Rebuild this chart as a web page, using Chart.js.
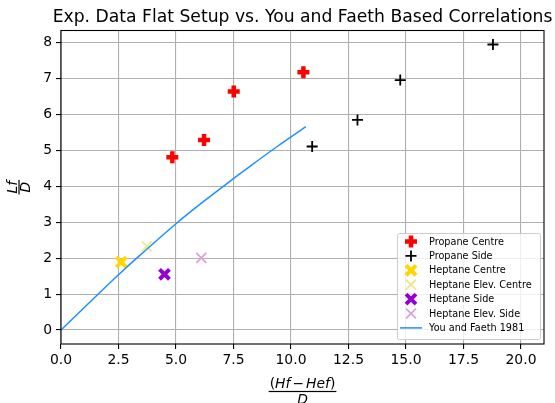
<!DOCTYPE html>
<html>
<head>
<meta charset="utf-8">
<script src="https://cdn.jsdelivr.net/npm/chart.js@4/dist/chart.umd.min.js"></script>
<style>
  html, body { margin: 0; padding: 0; background: #fff; }
  canvas { display: block; }
</style>
</head>
<body>
<canvas id="chart" width="555" height="403"></canvas>
<script>
// values
const titleText = 'Exp. Data Flat Setup vs. You and Faeth Based Correlations';

const propaneCentreX = [4.84, 6.22, 7.51, 10.54];
const propaneCentreY = [4.81, 5.29, 6.64, 7.18];

const propaneSideX = [10.92, 12.89, 14.75, 18.78];
const propaneSideY = [5.11, 5.85, 6.96, 7.95];

const heptaneCentreX = [2.62];
const heptaneCentreY = [1.89];

const heptaneElevCentreX = [3.73];
const heptaneElevCentreY = [2.33];

const heptaneSideX = [4.5];
const heptaneSideY = [1.55];

const heptaneElevSideX = [6.1];
const heptaneElevSideY = [2.01];

const youFaethX = [0, 1.6, 2.5, 3.5, 5.0, 6.2, 7.2, 8.2, 9.4, 10.65];
const youFaethY = [0, 0.99, 1.54, 2.12, 2.96, 3.58, 4.07, 4.55, 5.11, 5.66];

const xTicks = [0, 2.5, 5, 7.5, 10, 12.5, 15, 17.5, 20];
const yTicks = [0, 1, 2, 3, 4, 5, 6, 7, 8];

const toPoints = (xs, ys) => xs.map((x, i) => ({ x: x, y: ys[i] }));

const FONT = "'DejaVu Sans', sans-serif";

function markerSet(label, xs, ys, style, color, width, radius) {
  return {
    label: label,
    data: toPoints(xs, ys),
    pointStyle: style,
    borderColor: color,
    backgroundColor: color,
    pointBorderWidth: width,
    borderWidth: width,
    pointRadius: radius,
    pointHoverRadius: radius,
    showLine: false,
  };
}

// draw a math-style fraction centred at (0,0) in current transform
function drawFraction(ctx, numParts, den, size, numBase, denBase) {
  let total = 0;
  const widths = numParts.map(p => {
    ctx.font = (p.italic ? 'oblique ' : '') + size + 'px ' + FONT;
    const w = ctx.measureText(p.t).width + (p.gap || 0) * 2;
    total += w;
    return w;
  });
  let x = -total / 2;
  ctx.textBaseline = 'alphabetic';
  ctx.textAlign = 'left';
  numParts.forEach((p, i) => {
    ctx.font = (p.italic ? 'oblique ' : '') + size + 'px ' + FONT;
    ctx.fillText(p.t, x + (p.gap || 0), numBase);
    x += widths[i];
  });
  ctx.fillRect(-total / 2 - 1, -0.6, total + 2, 1.2);
  ctx.font = 'oblique ' + size + 'px ' + FONT;
  ctx.textAlign = 'center';
  ctx.fillText(den, 0, denBase);
}

const decorPlugin = {
  id: 'decor',
  afterDraw(chart) {
    const ctx = chart.ctx;
    const a = chart.chartArea;
    ctx.save();

    // spines
    ctx.strokeStyle = '#000';
    ctx.lineWidth = 1.1;
    ctx.strokeRect(a.left, a.top, a.right - a.left, a.bottom - a.top);

    // title
    ctx.fillStyle = '#000';
    ctx.font = '17.2px ' + FONT;
    ctx.textAlign = 'center';
    ctx.textBaseline = 'alphabetic';
    ctx.fillText(titleText, (a.left + a.right) / 2, 22);

    // x label
    ctx.save();
    ctx.translate((a.left + a.right) / 2, 391.5);
    drawFraction(ctx, [
      { t: '(', italic: false },
      { t: 'Hf', italic: true },
      { t: '\u2212', italic: false, gap: 2 },
      { t: 'Hef', italic: true },
      { t: ')', italic: false },
    ], 'D', 13.9, -3.5, 12.5);
    ctx.restore();

    // y label
    ctx.save();
    ctx.translate(19, (a.top + a.bottom) / 2);
    ctx.rotate(-Math.PI / 2);
    drawFraction(ctx, [{ t: 'Lf', italic: true }], 'D', 13.9, -2.5, 11);
    ctx.restore();

    // legend inside lower right
    const sets = chart.data.datasets;
    const boxL = 397, boxT = 233, boxW = 143, boxH = 106;
    ctx.fillStyle = 'rgba(255,255,255,0.8)';
    ctx.strokeStyle = '#cccccc';
    ctx.lineWidth = 1;
    ctx.beginPath();
    ctx.roundRect(boxL + 0.5, boxT + 0.5, boxW, boxH, 2);
    ctx.fill();
    ctx.stroke();
    sets.forEach((ds, i) => {
      const y = 241.5 + i * 14.4;
      if (ds.showLine) {
        ctx.strokeStyle = ds.borderColor;
        ctx.lineWidth = ds.borderWidth;
        ctx.beginPath();
        ctx.moveTo(400, y);
        ctx.lineTo(422, y);
        ctx.stroke();
      } else {
        ctx.strokeStyle = ds.borderColor;
        ctx.fillStyle = ds.backgroundColor;
        ctx.lineWidth = ds.borderWidth;
        Chart.helpers.drawPoint(ctx, {
          pointStyle: ds.pointStyle,
          radius: ds.pointRadius,
          rotation: 0,
          borderWidth: ds.borderWidth,
        }, 411, y);
      }
      ctx.fillStyle = '#000';
      ctx.font = '9.7px ' + FONT;
      ctx.textAlign = 'left';
      ctx.textBaseline = 'middle';
      ctx.fillText(ds.label, 429, y + 0.5);
    });

    ctx.restore();
  }
};

const data = {
  datasets: [
    markerSet('Propane Centre', propaneCentreX, propaneCentreY, 'cross', '#ff0000', 4.5, 6),
    markerSet('Propane Side', propaneSideX, propaneSideY, 'cross', '#000000', 1.8, 5.5),
    markerSet('Heptane Centre', heptaneCentreX, heptaneCentreY, 'crossRot', '#ffd700', 4, 7),
    markerSet('Heptane Elev. Centre', heptaneElevCentreX, heptaneElevCentreY, 'crossRot', '#f0e68c', 1.8, 7),
    markerSet('Heptane Side', heptaneSideX, heptaneSideY, 'crossRot', '#9400d3', 4, 7),
    markerSet('Heptane Elev. Side', heptaneElevSideX, heptaneElevSideY, 'crossRot', '#dda0dd', 1.8, 7),
    {
      label: 'You and Faeth 1981',
      data: toPoints(youFaethX, youFaethY),
      showLine: true,
      borderColor: '#1e90ff',
      backgroundColor: '#1e90ff',
      borderWidth: 1.5,
      pointRadius: 0,
      tension: 0.3,
      order: -1,
    },
  ],
};

const tickFont = { family: FONT, size: 13.9 };

const options = {
  responsive: false,
  animation: false,
  devicePixelRatio: 1,
  layout: { padding: { left: 0, top: 30.5, right: 9.5, bottom: 0 } },
  scales: {
    x: {
      type: 'linear',
      min: 0,
      max: 21,
      afterBuildTicks: scale => { scale.ticks = xTicks.map(v => ({ value: v })); },
      afterFit: scale => { scale.height = 59; },
      border: { display: false },
      grid: { color: '#b0b0b0', lineWidth: 1.1, tickLength: 5, tickColor: '#000' },
      ticks: {
        font: tickFont,
        color: '#000',
        padding: 3,
        maxRotation: 0,
        callback: v => v.toFixed(1),
      },
    },
    y: {
      type: 'linear',
      min: -0.39,
      max: 8.34,
      afterBuildTicks: scale => { scale.ticks = yTicks.map(v => ({ value: v })); },
      afterFit: scale => { scale.width = 61; },
      border: { display: false },
      grid: { color: '#b0b0b0', lineWidth: 1.1, tickLength: 5, tickColor: '#000' },
      ticks: {
        font: tickFont,
        color: '#000',
        padding: 4,
        callback: v => v.toString(),
      },
    },
  },
  plugins: {
    legend: { display: false },
    title: { display: false },
    tooltip: { enabled: false },
  },
};

new Chart(document.getElementById('chart').getContext('2d'), {
  type: 'scatter',
  data: data,
  options: options,
  plugins: [decorPlugin],
});
</script>
</body>
</html>
